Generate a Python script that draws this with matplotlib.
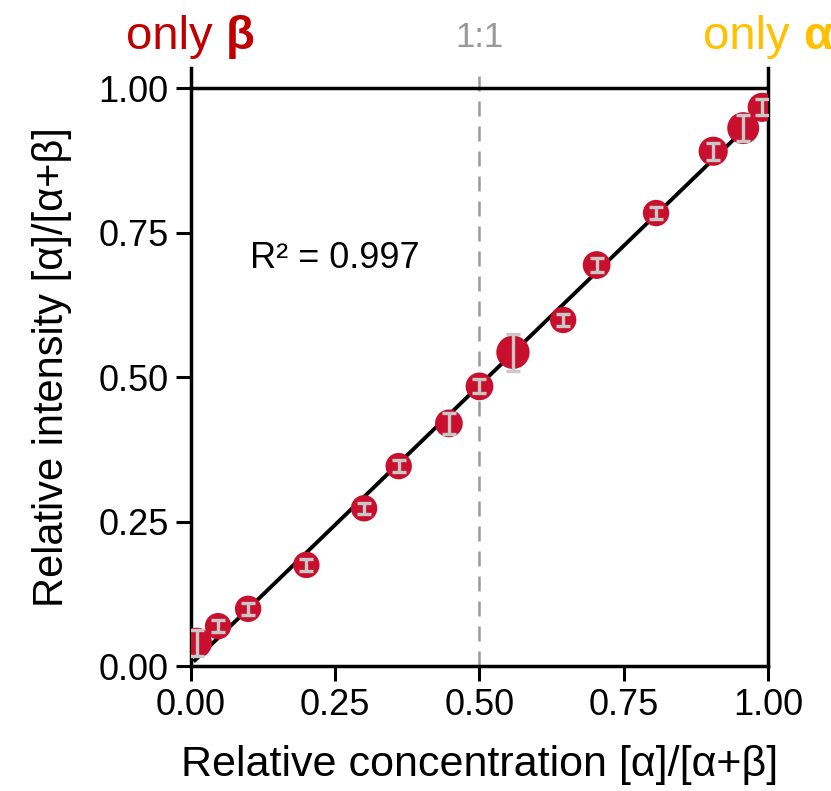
import numpy as np
import matplotlib.pyplot as plt

plt.rcParams['font.family'] = ['Liberation Sans', 'DejaVu Sans']

# relative concentration, relative intensity, error
conc = [0.01, 0.047, 0.099, 0.20, 0.30, 0.36, 0.447, 0.50, 0.558, 0.645, 0.703, 0.806, 0.905, 0.957, 0.99]
inten = [0.040, 0.069, 0.099, 0.175, 0.273, 0.346, 0.420, 0.484, 0.543, 0.599, 0.694, 0.784, 0.891, 0.931, 0.967]
err = [0.022, 0.010, 0.010, 0.010, 0.010, 0.010, 0.018, 0.012, 0.032, 0.010, 0.012, 0.010, 0.015, 0.022, 0.014]
msize = [22, 19, 19, 19, 19, 19, 20, 20, 24, 19, 20, 19, 21, 23, 21]

r2_text = "R² = 0.997"

red = '#C8102E'
fig = plt.figure(figsize=(8.31, 7.91), dpi=100)
ax = fig.add_axes([0.2298, 0.158, 0.6944, 0.756])

slope, icpt = np.polyfit(conc, inten, 1)
xf = np.array([0.007, 1.0])
ax.plot(xf, slope * xf + icpt, color='black', lw=2.8, zorder=2)

ax.axvline(0.5, color='#999999', lw=1.8, ls=(0, (6, 4)), zorder=1)
ax.axhline(1.0, color='black', lw=2.5, zorder=3)

ax.scatter(conc, inten, s=np.array(msize) ** 2, color=red, zorder=4, linewidths=0)
ax.errorbar(conc, inten, yerr=err, fmt='none', ecolor='#C8C8C8', elinewidth=2.4,
            capsize=5, capthick=2.4, zorder=5)

ax.set_xlim(0, 1)
ax.set_ylim(0, 1.035)
ticks = [0, 0.25, 0.5, 0.75, 1.0]
ax.set_xticks(ticks)
ax.set_yticks(ticks)
ax.set_xticklabels(['%.2f' % t for t in ticks])
ax.set_yticklabels(['%.2f' % t for t in ticks])
ax.tick_params(direction='out', length=11, width=2.2, labelsize=26, pad=5)

ax.spines['top'].set_visible(False)
for s in ['left', 'bottom', 'right']:
    ax.spines[s].set_linewidth(2.5)

ax.set_xlabel('Relative concentration [α]/[α+β]', fontsize=31, labelpad=16)
ax.set_ylabel('Relative intensity [α]/[α+β]', fontsize=30, labelpad=19)

ax.text(0.102, 0.705, r2_text, fontsize=26, ha='left', va='center')

ytop = 1.088
ax.text(0.5, ytop, '1:1', color='#999999', fontsize=25, ha='center', va='center')
ax.text(0.061, ytop, 'only ', color='#C00000', fontsize=34, ha='right', va='center')
ax.text(0.061, ytop, 'β', color='#C00000', fontsize=34, fontweight='bold', ha='left', va='center')
ax.text(1.061, ytop, 'only ', color='#FFC000', fontsize=34, ha='right', va='center')
ax.text(1.061, ytop, 'α', color='#FFC000', fontsize=34, fontweight='bold', ha='left', va='center')

fig.savefig('out.png', dpi=100)
